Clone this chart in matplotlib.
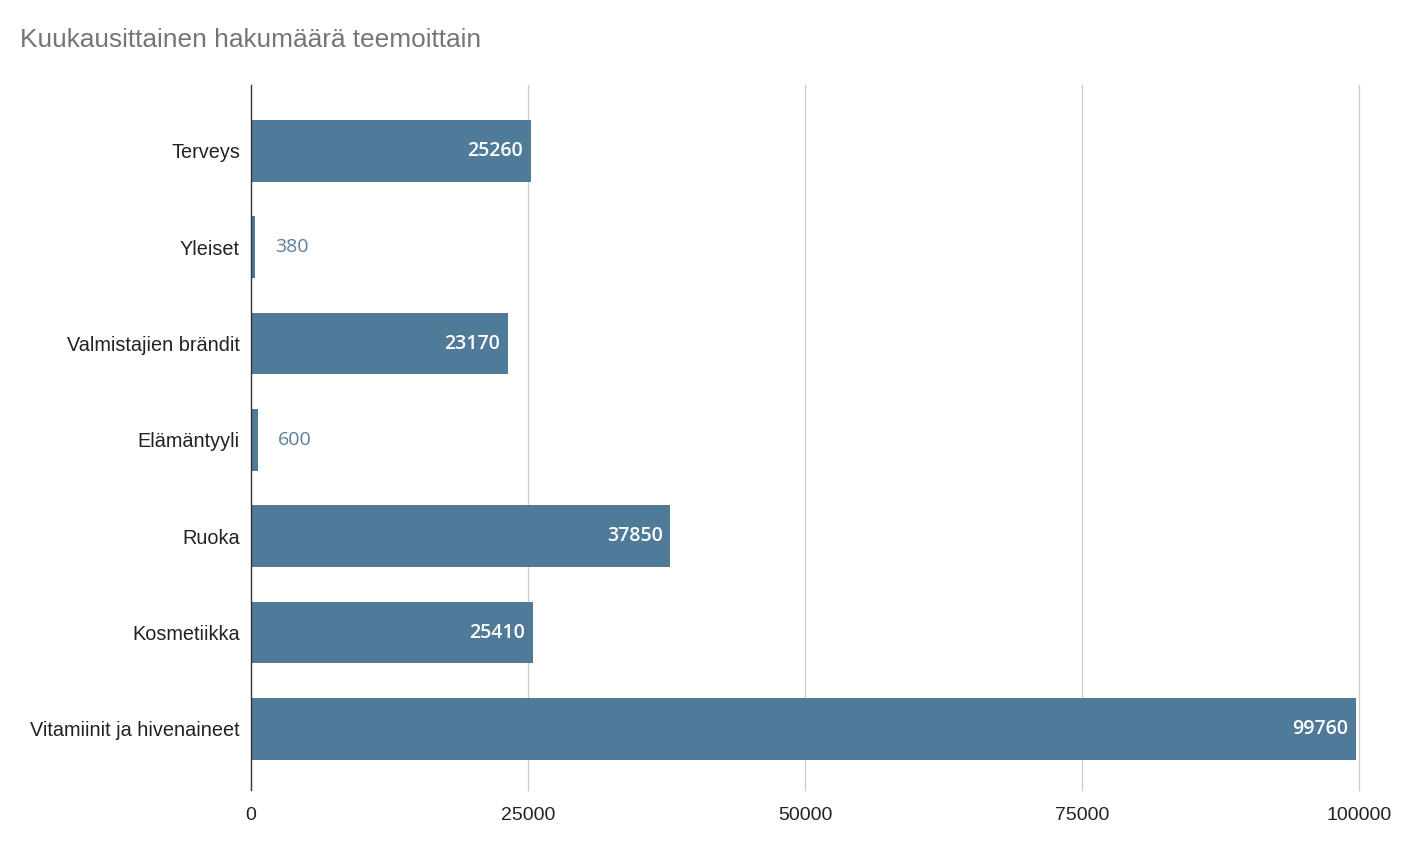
import matplotlib.pyplot as plt

# Monthly search volume per theme
categories = ['Terveys', 'Yleiset', 'Valmistajien brändit', 'Elämäntyyli',
              'Ruoka', 'Kosmetiikka', 'Vitamiinit ja hivenaineet']
values = [25260, 380, 23170, 600, 37850, 25410, 99760]
xticks = [0, 25000, 50000, 75000, 100000]

bar_color = '#4f7b98'

fig = plt.figure(figsize=(14.02, 8.61), dpi=100)
ax = fig.add_axes([251 / 1402, 1 - 790 / 861, (1359 - 251) / 1402, (790 - 85) / 861])

ypos = list(range(len(categories)))
ax.barh(ypos, values, height=0.64, color=bar_color, zorder=2)

for y, v in zip(ypos, values):
    if v > 5000:
        ax.text(v - 700, y, str(v), ha='right', va='center', color='white',
                fontsize=14, fontweight='semibold', family='Open Sans')
    else:
        ax.text(v + 1800, y, str(v), ha='left', va='center', color='#5a7f99',
                fontsize=14, family='Open Sans')

ax.set_ylim(len(categories) - 1 + 0.635, -0.685)
ax.set_xlim(0, 100000)
ax.set_yticks(ypos)
ax.set_yticklabels(categories, fontsize=14.3, family='Liberation Sans', color='#222222')
ax.set_xticks(xticks)
ax.set_xticklabels([str(t) for t in xticks], fontsize=14, family='Liberation Sans', color='#222222')
ax.tick_params(axis='both', length=0)
ax.tick_params(axis='x', pad=12)
ax.tick_params(axis='y', pad=8)

# gridlines drawn by hand so the one at 100000 isn't clipped
for t in xticks[1:]:
    ax.axvline(t, color='#cccccc', linewidth=1, zorder=0, clip_on=False)
for s in ['top', 'right', 'bottom']:
    ax.spines[s].set_visible(False)
ax.spines['left'].set_color('#333333')
ax.spines['left'].set_linewidth(1)
ax.spines['left'].set_zorder(3)

fig.text(20 / 1402, 1 - 40 / 861, 'Kuukausittainen hakumäärä teemoittain',
         fontsize=18.9, family='Liberation Sans', color='#757575', va='center')

fig.savefig('out.png', dpi=100)
